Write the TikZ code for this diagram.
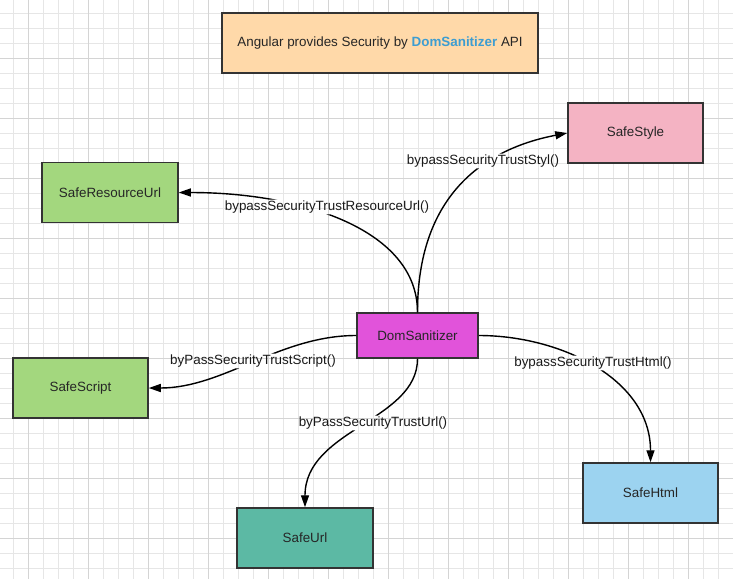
\documentclass[tikz,border=0pt]{standalone}
\usepackage{fontspec}
\setmainfont{Liberation Sans}
\usepackage{xcolor}
\usetikzlibrary{arrows.meta}
\definecolor{peach}{HTML}{FFD9A9}
\definecolor{pinkbox}{HTML}{F4B3C3}
\definecolor{greenbox}{HTML}{A3D77E}
\definecolor{magentabox}{HTML}{E153DA}
\definecolor{tealbox}{HTML}{5CB9A4}
\definecolor{bluebox}{HTML}{9CD3F0}
\definecolor{apiblue}{HTML}{3D9DD1}
\definecolor{gridminor}{HTML}{E6E6E6}
\definecolor{gridmajor}{HTML}{D4D4D4}
\tikzset{
box/.style = {rectangle, draw=black!80, line width=1.5pt, text=black!85, minimum width = #1, minimum height = 60pt, inner sep=0pt},
box/.default = 135pt, % width of the box
lbl/.style = {inner sep=1pt, text=black!90},
link/.style = {line width=1.4pt, -{Triangle[length=12pt,width=8pt]}},
}

\begin{document}
\begin{tikzpicture}[x=1pt, y=-1pt, font=\fontsize{13.4}{16}\selectfont]
    \useasboundingbox (0,0) rectangle (733,579);
    % grid
    \foreach \gx in {13.3,28.3,...,733} \draw[gridminor, line width=0.8pt] (\gx,0) -- (\gx,579);
    \foreach \gy in {13.3,28.3,...,579} \draw[gridminor, line width=0.8pt] (0,\gy) -- (733,\gy);
    \foreach \gx in {28.3,88.3,...,733} \draw[gridmajor, line width=0.8pt] (\gx,0) -- (\gx,579);
    \foreach \gy in {58.3,118.3,...,579} \draw[gridmajor, line width=0.8pt] (0,\gy) -- (733,\gy);

    \node[box=316pt, fill=peach] (title) at (380,43) {Angular provides Security by \textbf{\textcolor{apiblue}{DomSanitizer}} API};
    \node[box=121pt, minimum height=45pt, fill=magentabox] (dom) at (417.5,335.5) {DomSanitizer};
    \node[box, fill=pinkbox] (style) at (635.5,133) {SafeStyle};
    \node[box=136pt, fill=greenbox] (res) at (110,192.5) {SafeResourceUrl};
    \node[box, fill=greenbox] (script) at (80.5,388) {SafeScript};
    \node[box, fill=bluebox] (html) at (650.5,493) {SafeHtml};
    \node[box=136pt, fill=tealbox] (url) at (305,538) {SafeUrl};

    \node[lbl] (lblRes) at (327,207) {bypassSecurityTrustResourceUrl()};
    \node[lbl] (lblStyle) at (483,161) {bypassSecurityTrustStyl()};
    \node[lbl] (lblScript) at (253,361) {byPassSecurityTrustScript()};
    \node[lbl] (lblUrl) at (373,423) {byPassSecurityTrustUrl()};
    \node[lbl] (lblHtml) at (593,363) {bypassSecurityTrustHtml()};

    % lines stop at the labels
    \begin{scope}[even odd rule]
    \clip (0,0) rectangle (733,579)
        (lblRes.south west) rectangle (lblRes.north east)
        (lblStyle.south west) rectangle (lblStyle.north east)
        (lblScript.south west) rectangle (lblScript.north east)
        (lblUrl.south west) rectangle (lblUrl.north east)
        (lblHtml.south west) rectangle (lblHtml.north east);
    \draw[link] (dom.north) .. controls +(0,-83) and +(122,0) .. (res.east);
    \draw[link] (dom.north) .. controls +(0,-113) and +(-88,17) .. (style.west);
    \draw[link] (dom.west) .. controls +(-77,0) and +(75,0) .. (script.east);
    \draw[link] (dom.south) .. controls +(0,62) and +(0,-78) .. (url.north);
    \draw[link] (dom.east) .. controls +(82,0) and +(0,-83) .. (html.north);
    \end{scope}
\end{tikzpicture}
\end{document}
